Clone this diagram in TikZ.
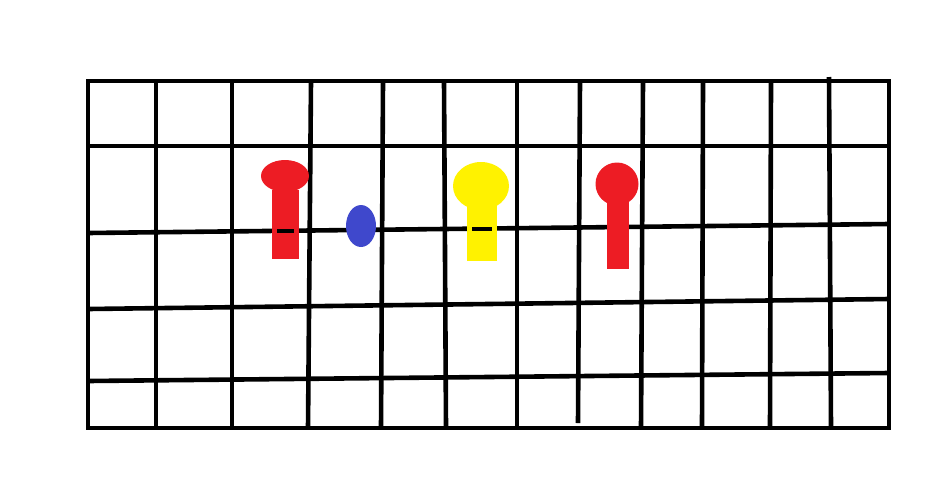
\documentclass[tikz,border=0pt]{standalone}
\usepackage{xcolor}
\usepackage{tikz}
\definecolor{pinred}{RGB}{237, 28, 36}
\definecolor{pinyellow}{RGB}{255, 242, 0}
\definecolor{pinblue}{RGB}{63, 72, 204}
\tikzset{
  gridline/.style={draw=black, line width=4.6pt},
  redpin/.style={fill=pinred},
  yellowpin/.style={fill=pinyellow},
  bluepin/.style={fill=pinblue},
  pinmark/.style={draw=black, line width=4.6pt}
}
\begin{document}
\begin{tikzpicture}[x=1pt, y=-1pt]
  \useasboundingbox (0,0) rectangle (936,485);

  % Board: vertical lines (top x / bottom x)
  \foreach \xt/\xb in {156/156, 232/232, 311/308, 383/381, 444/446, 517/517, 643/641, 703/702, 771/770}
    \draw[gridline] (\xt,81) -- (\xb,428);
  \draw[gridline] (580,81) -- (578,423);
  \draw[gridline] (829,77) -- (831,428);

  % Board: horizontal lines (left y / right y)
  \foreach \yl/\yr in {146/146, 233/224, 309/299, 381/373}
    \draw[gridline] (88,\yl) -- (889,\yr);

  % Board: frame
  \draw[gridline] (88,81) rectangle (889,428);

  % Red pin (left)
  \fill[redpin] (272,190) rectangle (299,259);
  \fill[redpin] (285,176) ellipse [x radius=24, y radius=16];
  \draw[pinmark] (277,231) -- (294,231);

  % Blue marker
  \fill[bluepin] (361,226) ellipse [x radius=15, y radius=21];

  % Yellow pin
  \fill[yellowpin] (467,200) rectangle (497,261);
  \fill[yellowpin] (481,186) ellipse [x radius=28, y radius=24];
  \draw[pinmark] (472,229) -- (492,229);

  % Red pin (right)
  \fill[redpin] (607,195) rectangle (629,269);
  \fill[redpin] (617,184) circle [radius=21.5];

\end{tikzpicture}
\end{document}
